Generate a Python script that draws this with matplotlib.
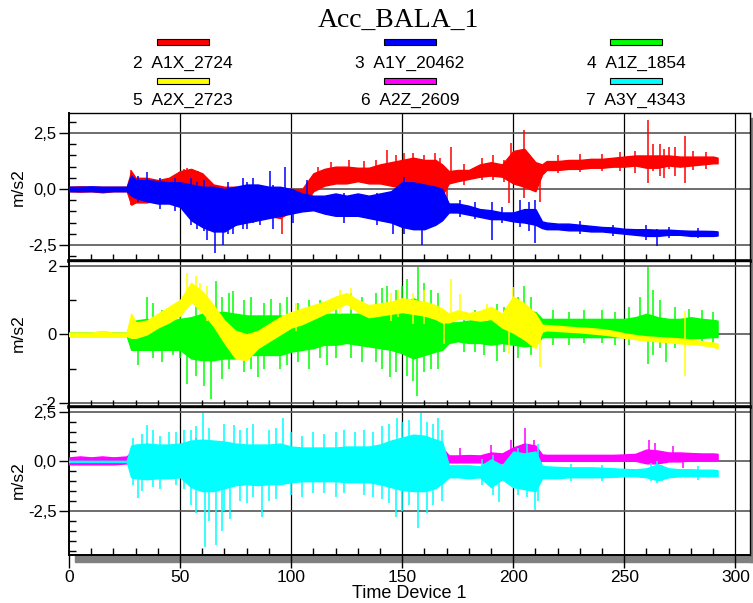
import numpy as np
import matplotlib
matplotlib.use("Agg")
import matplotlib.pyplot as plt
from matplotlib.patches import Rectangle
from matplotlib.ticker import MultipleLocator, FixedLocator, FuncFormatter

# envelope knots (s) shared by all channels, one row per line below
t_knots = [0, 5, 10, 15, 20, 26,
           28, 30, 35, 40, 45, 50, 55, 60, 65,
           70, 75, 80, 85, 90, 95, 100, 105, 110,
           115, 120, 125, 130, 135, 140, 145, 150, 155,
           160, 165, 168, 171, 175, 180, 185, 190, 195,
           200, 205, 210, 213, 215, 220, 225, 230, 235,
           240, 245, 250, 255, 260, 265, 270, 275, 280,
           285, 290, 292]

# 2 A1X_2724 (red): dense band top / bottom, then single spikes (t, lo, hi)
a1x_hi = [0.1, 0.12, 0.1, 0.1, 0.1, 0.1,
          0.8, 0.5, 0.5, 0.4, 0.5, 0.8, 0.9, 0.7, 0.2,
          0.1, 0.1, 0.0, 0.0, 0.0, 0.0, 0.0, 0.0, 0.7,
          0.9, 1.0, 1.0, 0.95, 0.95, 1.1, 1.2, 1.3, 1.4,
          1.3, 1.3, 1.1, 0.8, 0.85, 0.85, 1.1, 1.2, 1.1,
          1.7, 1.8, 1.2, 1.1, 1.25, 1.25, 1.3, 1.3, 1.35,
          1.35, 1.4, 1.45, 1.5, 1.5, 1.5, 1.5, 1.45, 1.45,
          1.45, 1.45, 1.4]
a1x_lo = [-0.1, -0.12, -0.1, -0.15, -0.1, -0.1,
          -0.7, -0.6, -0.6, -0.5, -0.5, -0.4, -0.8, -1.0, -1.3,
          -1.5, -1.6, -1.2, -1.1, -1.2, -1.3, -1.0, -0.8, -0.1,
          0.15, 0.25, 0.25, 0.35, 0.25, 0.25, 0.15, 0.05, -0.1,
          -0.1, -0.2, -0.3, 0.25, 0.35, 0.45, 0.55, 0.6, 0.55,
          0.25, 0.1, -0.1, 0.65, 0.85, 0.85, 0.9, 0.9, 0.95,
          0.95, 1.0, 1.0, 1.05, 0.95, 0.95, 1.05, 1.0, 1.05,
          1.1, 1.15, 1.15]
a1x_spikes = [(28, -0.7, 0.85), (52, -0.9, 0.9), (53, -0.3, 0.95), (56, -0.95, 0.5),
              (58, -0.9, 0.8), (63, -1.9, 0.2), (96, -2.0, -0.5), (112, 0.2, 1.0),
              (118, 0.3, 1.2), (126, 0.4, 1.3), (133, 0.4, 1.25), (138, 0.3, 1.3),
              (143, 0.3, 1.75), (147, 0.3, 1.5), (151, 0.2, 1.6), (155, -0.3, 1.6),
              (160, -0.4, 1.5), (165, -0.4, 1.6), (167, -0.2, 1.4), (170, -0.5, 0.8),
              (172, 0.3, 1.9), (178, 0.2, 1.1), (186, 0.4, 1.4), (191, 0.4, 1.5),
              (196, 0.3, 1.3), (198, -0.64, 0.6), (199, 0.3, 2.04), (205, -0.42, 2.63),
              (212, -0.57, 1.0), (220, 0.7, 1.5), (230, 0.75, 1.55), (240, 0.8, 1.55),
              (248, 0.8, 1.65), (255, 0.7, 1.7), (260.5, 0.25, 3.08), (263, 0.8, 2.0),
              (266, 0.6, 2.0), (268, 0.5, 1.8), (270, 0.9, 1.9), (273, 0.6, 1.9),
              (277.4, 0.25, 2.37), (281, 0.85, 1.7), (287, 0.9, 1.65)]

# 3 A1Y_20462 (blue)
a1y_hi = [0.1, 0.1, 0.12, 0.1, 0.1, 0.1,
          0.6, 0.4, 0.4, 0.35, 0.3, 0.3, 0.2, 0.1, 0.1,
          0.0, 0.1, 0.2, 0.2, 0.1, 0.1, 0.0, -0.2, -0.3,
          -0.3, -0.2, -0.3, -0.2, -0.3, -0.2, -0.1, 0.3, 0.3,
          0.2, 0.1, 0.0, -0.65, -0.65, -0.75, -0.9, -0.95, -1.05,
          -1.05, -0.9, -0.9, -1.45, -1.5, -1.55, -1.55, -1.6, -1.65,
          -1.7, -1.72, -1.78, -1.8, -1.8, -1.82, -1.82, -1.85, -1.87,
          -1.87, -1.88, -1.9]
a1y_lo = [-0.1, -0.1, -0.1, -0.12, -0.1, -0.1,
          -0.3, -0.4, -0.55, -0.65, -0.65, -0.8, -1.4, -1.7, -1.9,
          -1.9, -1.6, -1.5, -1.4, -1.3, -1.2, -1.1, -1.0, -0.95,
          -1.1, -1.2, -1.2, -1.2, -1.3, -1.4, -1.5, -1.7, -1.8,
          -1.8, -1.6, -1.4, -1.05, -1.05, -1.15, -1.25, -1.35, -1.35,
          -1.45, -1.5, -1.6, -1.75, -1.8, -1.8, -1.85, -1.85, -1.9,
          -1.9, -1.95, -2.0, -2.05, -2.1, -2.1, -2.05, -2.05, -2.1,
          -2.1, -2.1, -2.08]
a1y_spikes = [(31, -0.6, 0.6), (35, -0.5, 0.75), (41, -0.9, 0.5), (47.7, -1.0, 0.5),
              (55, -1.6, 0.5), (57.5, -1.8, 0.3), (61, -1.9, 0.4), (62, -2.3, 0.0),
              (65.8, -2.87, -0.5), (69.5, -2.5, -0.5), (71.8, -2.0, 0.3),
              (74, -2.0, 0.0), (78.5, -1.8, 0.5), (80, -1.8, 0.3), (83, -1.5, 0.5),
              (86, -1.6, 0.2), (90.5, -1.0, 0.8), (92, -1.8, 0.2), (97.4, -1.0, 1.0),
              (101, -1.5, 0.0), (107, -1.0, 0.4), (123.6, -1.5, -0.2),
              (138.6, -1.6, -0.2), (146, -2.0, -0.5), (150.6, -2.0, 0.55),
              (159, -2.5, -1.0), (176, -1.25, -0.5), (183, -1.35, -0.6),
              (190.5, -2.28, -0.57), (195, -1.5, -0.8), (203, -1.7, -0.5),
              (207, -1.9, -0.6), (209.6, -2.43, -0.5), (230, -2.0, -1.45),
              (245, -2.1, -1.6), (260, -2.3, -1.6), (264.6, -2.57, -1.8),
              (270, -2.2, -1.7), (283, -2.2, -1.75)]

# 4 A1Z_1854 (green)
a1z_hi = [0.05, 0.05, 0.05, 0.08, 0.05, 0.05,
          0.4, 0.4, 0.45, 0.4, 0.4, 0.45, 0.5, 0.6, 0.65,
          0.65, 0.6, 0.55, 0.55, 0.55, 0.55, 0.5, 0.5, 0.5,
          0.6, 0.6, 0.6, 0.6, 0.7, 0.7, 0.75, 0.9, 1.05,
          0.9, 0.8, 0.7, 0.35, 0.35, 0.4, 0.45, 0.5, 0.45,
          0.7, 0.7, 0.65, 0.45, 0.45, 0.45, 0.45, 0.45, 0.45,
          0.45, 0.45, 0.45, 0.5, 0.6, 0.5, 0.45, 0.45, 0.5,
          0.45, 0.42, 0.4]
a1z_lo = [-0.05, -0.05, -0.05, -0.05, -0.05, -0.05,
          -0.45, -0.45, -0.45, -0.45, -0.45, -0.45, -0.7, -0.75, -0.75,
          -0.7, -0.7, -0.6, -0.6, -0.6, -0.6, -0.5, -0.45, -0.4,
          -0.3, -0.3, -0.25, -0.3, -0.35, -0.4, -0.45, -0.55, -0.7,
          -0.6, -0.5, -0.45, -0.25, -0.2, -0.25, -0.25, -0.3, -0.25,
          -0.3, -0.35, -0.3, -0.08, -0.08, -0.08, -0.08, -0.08, -0.08,
          -0.08, -0.08, -0.08, -0.12, -0.15, -0.15, -0.15, -0.12, -0.12,
          -0.1, -0.08, -0.08]
a1z_spikes = [(31, -0.9, 0.2), (35, 0.0, 1.08), (38, -0.7, 0.9), (42, -0.8, 0.7),
              (47, -0.6, 0.8), (50, -0.7, 0.9), (53, -1.45, 0.0), (57, -1.2, 1.0),
              (61, -1.5, 0.0), (64, -1.88, 0.0), (66, 0.0, 1.56), (69, -1.3, 1.1),
              (72, -1.0, 1.2), (74, 0.0, 1.27), (79, -1.1, 1.0), (82, -1.0, 1.1),
              (85, -1.25, 0.0), (88, -1.0, 0.9), (91, 0.0, 1.03), (95, -1.0, 0.9),
              (98, -0.9, 1.1), (103, -0.8, 0.9), (108, -1.0, 1.0), (113, -0.7, 1.0),
              (116, -0.9, 0.0), (120, -0.7, 1.1), (127, -0.7, 1.2), (132, -0.8, 1.1),
              (138, -0.8, 1.2), (141, -1.0, 1.35), (143, 0.0, 1.42),
              (144.5, -1.25, 0.0), (147, -1.1, 1.3), (150, 0.0, 1.42),
              (152, -1.2, 1.6), (155, -1.35, 0.0), (156.5, -1.79, 0.0),
              (157, 0.0, 1.95), (160, -1.1, 1.5), (163, -1.0, 1.3), (166, -1.0, 1.2),
              (178, -0.5, 0.6), (183, -0.5, 0.7), (187, -0.6, 0.7),
              (192.5, -0.77, 0.88), (196, -0.5, 0.8), (202, -0.7, 1.1),
              (205, 0.0, 1.42), (208, -0.6, 1.1), (218, -0.3, 0.7), (225, -0.3, 0.65),
              (232, -0.25, 0.7), (240, -0.25, 0.7), (246, -0.3, 0.65), (252, -0.3, 0.8),
              (257, 0.0, 1.08), (260.5, -0.86, 1.97), (263, -0.6, 1.3),
              (266, -0.4, 1.0), (269, -0.8, 0.0), (273, -0.4, 0.8), (279, -0.3, 0.75),
              (285, -0.3, 0.7), (290, -0.25, 0.65)]

# 5 A2X_2723 (yellow)
a2x_hi = [0.05, 0.05, 0.05, 0.1, 0.05, 0.05,
          0.6, 0.35, 0.4, 0.6, 0.8, 1.0, 1.5, 1.25, 0.85,
          0.4, 0.1, 0.0, 0.1, 0.3, 0.5, 0.65, 0.75, 0.85,
          0.95, 1.1, 1.2, 1.0, 0.85, 0.9, 0.95, 1.05, 1.0,
          0.95, 0.85, 0.75, 0.6, 0.7, 0.62, 0.68, 0.8, 0.6,
          1.1, 0.9, 0.6, 0.28, 0.27, 0.25, 0.22, 0.2, 0.18,
          0.15, 0.1, 0.03, -0.02, -0.06, -0.08, -0.1, -0.12, -0.15,
          -0.2, -0.24, -0.27]
a2x_lo = [-0.05, -0.05, -0.05, -0.05, -0.05, -0.05,
          -0.1, -0.1, 0.0, 0.2, 0.35, 0.55, 0.95, 0.65, 0.25,
          -0.25, -0.7, -0.75, -0.4, -0.2, 0.0, 0.2, 0.3, 0.45,
          0.6, 0.75, 0.9, 0.65, 0.5, 0.55, 0.6, 0.65, 0.6,
          0.55, 0.45, 0.35, 0.35, 0.45, 0.45, 0.4, 0.45, 0.2,
          0.05, -0.15, -0.4, 0.08, 0.12, 0.1, 0.08, 0.06, 0.03,
          0.0, -0.04, -0.1, -0.14, -0.18, -0.2, -0.23, -0.26, -0.28,
          -0.31, -0.36, -0.4]
a2x_spikes = [(53, 1.0, 1.8), (57, 0.8, 1.7), (59, 0.6, 1.5), (62, 0.4, 1.4),
              (102, 0.1, 0.9), (122, 0.6, 1.3), (127, 0.7, 1.35), (145, 0.4, 1.2),
              (148, 0.5, 1.3), (155, 0.3, 1.2), (160, 0.3, 1.3), (169, -0.28, 0.6),
              (172, 0.4, 1.6), (176, 0.45, 1.17), (188, 0.4, 0.88), (198, -0.57, 0.5),
              (200, 0.3, 1.37), (212, -0.96, 0.3), (277.3, -1.2, 0.69)]

# 6 A2Z_2609 (magenta)
a2z_hi = [0.2, 0.25, 0.2, 0.25, 0.2, 0.25,
          0.5, 0.5, 0.5, 0.5, 0.6, 0.6, 1.0, 0.9, 0.7,
          0.6, 0.6, 0.6, 0.6, 0.6, 0.6, 0.6, 0.6, 0.6,
          0.6, 0.6, 0.6, 0.6, 0.6, 0.6, 0.6, 0.7, 0.7,
          0.7, 0.7, 0.7, 0.3, 0.3, 0.32, 0.3, 0.45, 0.4,
          0.7, 0.9, 0.8, 0.35, 0.33, 0.33, 0.33, 0.33, 0.33,
          0.33, 0.33, 0.35, 0.38, 0.6, 0.55, 0.45, 0.45, 0.42,
          0.4, 0.4, 0.38]
a2z_lo = [-0.15, -0.15, -0.15, -0.15, -0.15, -0.1,
          -0.3, -0.3, -0.3, -0.3, -0.3, -0.3, -0.3, -0.3, -0.3,
          -0.3, -0.3, -0.3, -0.3, -0.3, -0.3, -0.3, -0.2, -0.2,
          -0.2, -0.2, -0.2, -0.2, -0.2, -0.2, -0.2, -0.2, -0.2,
          -0.2, -0.2, -0.2, -0.05, -0.05, -0.05, -0.05, -0.1, -0.1,
          -0.1, -0.2, -0.2, 0.05, 0.03, 0.03, 0.03, 0.03, 0.03,
          0.03, 0.03, 0.03, 0.03, -0.1, -0.1, 0.0, 0.0, 0.05,
          0.05, 0.08, 0.08]
a2z_spikes = [(57, 0.3, 1.18), (176, 0.0, 0.68), (190, 0.0, 0.84), (199, 0.0, 1.1),
              (205.4, -0.2, 1.66), (209.5, 0.0, 1.1), (261, 0.0, 1.1),
              (264, 0.0, 0.93), (272, 0.0, 0.76), (276.5, -0.34, 0.2)]

# 7 A3Y_4343 (cyan)
a3y_hi = [0.03, 0.03, 0.03, 0.03, 0.03, 0.03,
          0.8, 0.85, 0.9, 0.85, 0.85, 0.9, 1.05, 1.1, 1.05,
          1.0, 0.9, 0.85, 0.85, 0.85, 0.9, 0.75, 0.7, 0.7,
          0.7, 0.7, 0.75, 0.75, 0.75, 0.85, 1.05, 1.2, 1.35,
          1.3, 1.1, 1.0, -0.2, -0.2, -0.2, -0.25, 0.1, -0.2,
          0.5, 0.4, 0.5, -0.22, -0.25, -0.28, -0.3, -0.3, -0.3,
          -0.32, -0.35, -0.38, -0.4, -0.35, -0.15, -0.35, -0.4, -0.4,
          -0.42, -0.42, -0.45]
a3y_lo = [-0.03, -0.03, -0.03, -0.03, -0.03, -0.03,
          -0.8, -0.85, -0.9, -0.85, -0.85, -0.8, -1.3, -1.5, -1.5,
          -1.35, -1.2, -1.15, -1.2, -1.15, -1.15, -1.05, -1.0, -1.0,
          -1.0, -1.0, -1.05, -1.05, -1.05, -1.15, -1.3, -1.45, -1.5,
          -1.5, -1.35, -1.1, -0.8, -0.8, -0.85, -0.8, -1.3, -0.9,
          -1.3, -1.4, -1.5, -0.85, -0.85, -0.85, -0.8, -0.8, -0.8,
          -0.8, -0.78, -0.75, -0.75, -0.8, -0.95, -0.8, -0.75, -0.75,
          -0.75, -0.75, -0.75]
a3y_spikes = [(29, -1.2, 1.2), (31, -1.86, 0.0), (33, -1.5, 1.4), (35, 0.0, 1.82),
              (38, -1.3, 1.6), (41, -1.4, 1.3), (45, 0.0, 1.5), (48, -1.2, 1.5),
              (52, -1.4, 1.6), (55, -2.2, 1.6), (57, -2.6, 1.8), (60.2, 0.0, 2.42),
              (61.3, -4.3, 0.0), (63, -3.0, 1.7), (66, -4.2, 0.0), (68.8, -3.5, 0.0),
              (70, -2.5, 1.9), (72.5, -2.9, 0.0), (74.5, 0.0, 1.86), (77, -2.0, 1.6),
              (80, -2.1, 1.7), (83, -1.8, 1.9), (86.8, -2.8, 0.0), (90, -2.0, 1.6),
              (93, -1.9, 1.7), (96.5, 0.0, 2.2), (100, -1.7, 1.5), (105, -1.8, 1.3),
              (110, -1.6, 1.5), (115, -1.6, 1.4), (120, -1.8, 1.5), (124, -1.6, 1.6),
              (128.8, 0.0, 1.5), (133, -1.7, 1.6), (137, -1.8, 1.5), (141, -1.9, 1.8),
              (144, -2.1, 1.9), (147, -2.8, 0.0), (147.6, 0.0, 2.2), (150, -2.5, 2.0),
              (153, -2.2, 2.1), (157, -3.38, 0.0), (158.4, 0.0, 2.42),
              (161, -2.6, 2.0), (164, -2.2, 1.9), (166, 0.0, 2.2), (168, -2.0, 1.6),
              (186, -1.2, 0.1), (191, -1.7, 0.3), (193.6, -2.03, -0.4),
              (202, -1.7, 0.7), (206, -1.8, 0.9), (209.6, -2.45, -0.5),
              (211, -2.0, 0.9), (226, -1.0, -0.15), (240, -1.0, -0.2),
              (262, -1.0, -0.1), (264.6, -1.1, 0.0), (267, -1.0, -0.2),
              (283, -0.95, -0.25)]

legend_names = ["2  A1X_2724", "3  A1Y_20462", "4  A1Z_1854",
                "5  A2X_2723", "6  A2Z_2609", "7  A3Y_4343"]
legend_colors = ["#ff0000", "#0000ff", "#00ff00", "#ffff00", "#ff00ff", "#00ffff"]

W, H = 753, 603
plt.rcParams["font.family"] = ["Liberation Sans", "DejaVu Sans"]
fig = plt.figure(figsize=(W / 100, H / 100), dpi=100)


def px_box(x0, y0, x1, y1):
    return [x0 / W, 1 - y1 / H, (x1 - x0) / W, (y1 - y0) / H]


def draw_signal(ax, lo, hi, spikes, color):
    ax.fill_between(t_knots, lo, hi, color=color, lw=1.0, zorder=3)
    ax.vlines([s[0] for s in spikes], [s[1] for s in spikes],
              [s[2] for s in spikes], color=color, lw=1.1, zorder=3)


def comma_fmt(v, pos):
    return "{:.1f}".format(v).replace(".", ",")


panels = [
    (px_box(69, 113, 750, 260.5), (-3.2, 3.4), [-2.5, 0, 2.5], 0.5, comma_fmt),
    (px_box(69, 260.5, 750, 406.5), (-2.1, 2.15), [-2, 0, 2], 1.0,
     lambda v, p: "{:d}".format(int(round(v)))),
    (px_box(69, 406.5, 750, 554.5), (-4.7, 2.77), [-2.5, 0, 2.5], 0.5, comma_fmt),
]

axes = []
for i, (box, ylim, majors, minor, fmt) in enumerate(panels):
    ax = fig.add_axes(box)
    ax.set_xlim(0, 306.6)
    ax.set_ylim(*ylim)
    ax.yaxis.set_major_locator(FixedLocator(majors))
    ax.yaxis.set_minor_locator(MultipleLocator(minor))
    ax.yaxis.set_major_formatter(FuncFormatter(fmt))
    ax.xaxis.set_major_locator(MultipleLocator(50))
    ax.xaxis.set_minor_locator(MultipleLocator(10))
    ax.tick_params(axis="y", which="major", direction="out", length=7, width=1,
                   labelsize=12, pad=2)
    ax.tick_params(axis="y", which="minor", direction="in", length=5, width=1)
    ax.tick_params(axis="x", which="minor", direction="in", length=5, width=1,
                   top=False)
    if i < 2:
        ax.tick_params(axis="x", which="major", length=0, labelbottom=False)
    else:
        ax.tick_params(axis="x", which="major", direction="out", length=9,
                       width=1, labelsize=12.5, pad=2)
    for v in range(50, 301, 50):
        ax.axvline(v, color="black", lw=0.9, zorder=1)
    for v in majors:
        ax.axhline(v, color="#555555", lw=1.2, zorder=1)
    ax.spines["left"].set_linewidth(1.4)
    ax.spines["right"].set_linewidth(1.0)
    ax.spines["top"].set_linewidth(1.0)
    ax.spines["bottom"].set_linewidth(2.6 if i < 2 else 1.4)
    fig.text(18 / W, box[1] + box[3] / 2, "m/s2", rotation=90, fontsize=12.5,
             ha="center", va="center")
    axes.append(ax)

draw_signal(axes[0], a1x_lo, a1x_hi, a1x_spikes, "#ff0000")
draw_signal(axes[0], a1y_lo, a1y_hi, a1y_spikes, "#0000ff")
draw_signal(axes[1], a1z_lo, a1z_hi, a1z_spikes, "#00ff00")
draw_signal(axes[1], a2x_lo, a2x_hi, a2x_spikes, "#ffff00")
draw_signal(axes[2], a2z_lo, a2z_hi, a2z_spikes, "#ff00ff")
draw_signal(axes[2], a3y_lo, a3y_hi, a3y_spikes, "#00ffff")

axes[2].set_xlabel("Time Device 1", fontsize=13, labelpad=0)

# drop shadow under and right of the plot block
fig.patches.append(Rectangle((75 / W, 1 - 562 / H), (753 - 75) / W, 7 / H,
                             transform=fig.transFigure, color="#808080",
                             zorder=-1))
fig.patches.append(Rectangle((750 / W, 1 - 562 / H), 3 / W, (562 - 118) / H,
                             transform=fig.transFigure, color="#808080",
                             zorder=-1))

fig.text(398 / W, 1 - 20 / H, "Acc_BALA_1", fontsize=20, ha="center",
         va="center", family=["Liberation Serif", "DejaVu Serif"])

col_x = [183, 410, 636]
row_sw = [42, 81]
row_tx = [63, 100]
for k, (name, col) in enumerate(zip(legend_names, legend_colors)):
    r, c = divmod(k, 3)
    cx = col_x[c]
    fig.patches.append(Rectangle(((cx - 26) / W, 1 - (row_sw[r] + 3) / H),
                                 52 / W, 6 / H, transform=fig.transFigure,
                                 facecolor=col, edgecolor="black", lw=0.8))
    fig.text(cx / W, 1 - row_tx[r] / H, name, fontsize=12.5, ha="center",
             va="center")

fig.savefig("out.png", dpi=100)
